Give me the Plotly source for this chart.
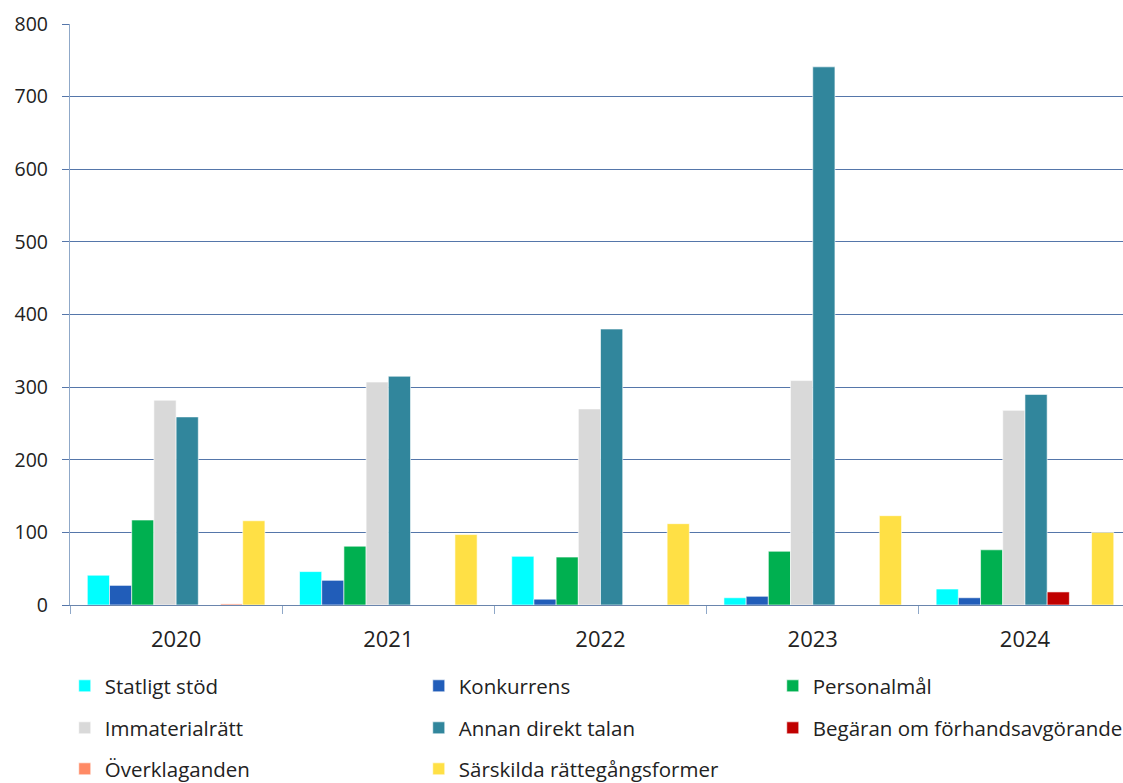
import plotly.graph_objects as go

years = ["2020", "2021", "2022", "2023", "2024"]
series_names = [
    "Statligt stöd", "Konkurrens", "Personalmål",
    "Immaterialrätt", "Annan direkt talan", "Begäran om förhandsavgörande",
    "Överklaganden", "Särskilda rättegångsformer",
]
statligt_stod = [41, 46, 67, 10, 22]
konkurrens = [27, 34, 8, 12, 10]
personalmal = [117, 81, 66, 74, 76]
immaterialratt = [282, 307, 270, 309, 268]
annan_direkt_talan = [259, 315, 380, 741, 290]
begaran = [0, 0, 0, 0, 18]
overklaganden = [1.5, 0, 0, 0, 0]
sarskilda = [116, 97, 112, 123, 100]
values = [statligt_stod, konkurrens, personalmal, immaterialratt,
          annan_direkt_talan, begaran, overklaganden, sarskilda]
colors = ["#00FFFF", "#215DB9", "#00B050", "#D9D9D9", "#31869C",
          "#C00000", "#FF8A65", "#FFE045"]

FONT = "Open Sans"
W, H = 1123, 783
# legend grid (pixels): entry left edges and row centres
col_px = [64.75, 418.75, 772.75]
row_px = [686, 728, 769]

fig = go.Figure()
legends = {}
for i, (name, vals, col) in enumerate(zip(series_names, values, colors)):
    lid = "legend" if i == 0 else f"legend{i + 1}"
    fig.add_trace(go.Bar(
        x=years, y=vals, name=name, legend=lid, showlegend=True,
        marker=dict(color=col, line=dict(color="white", width=0.6)),
    ))
    r, c = divmod(i, 3)
    legends[lid] = dict(
        xref="container", yref="container",
        x=col_px[c] / W, y=1 - row_px[r] / H,
        xanchor="left", yanchor="middle", orientation="h",
        font=dict(family=FONT, size=20.5, color="#222"),
        bgcolor="rgba(0,0,0,0)", itemclick=False, itemdoubleclick=False,
    )

fig.update_layout(
    width=W, height=H, showlegend=True,
    margin=dict(l=69.5, r=0, t=24, b=783 - 605, autoexpand=False),
    paper_bgcolor="white", plot_bgcolor="white",
    barmode="group", bargap=0.163, bargroupgap=0,
    font=dict(family=FONT, size=20.5, color="#222"),
    xaxis=dict(type="category", range=[-0.5, 4.462], automargin=False,
               showline=True, linecolor="#6A85AD", linewidth=1.2,
               ticks="outside", tickson="boundaries", ticklen=8,
               tickcolor="#8FA8C8", ticklabelstandoff=14,
               tickfont=dict(family=FONT, size=22, color="#222"),
               showgrid=False),
    yaxis=dict(range=[0, 800], dtick=100, showgrid=True, gridcolor="#5576AA",
               gridwidth=1, showline=True, linecolor="#8FA8C8", linewidth=1.2,
               ticks="outside", ticklen=7, tickcolor="#5576AA",
               ticklabelstandoff=10, automargin=False,
               tickfont=dict(family=FONT, size=19.5, color="#222"),
               zeroline=False),
    **legends,
)
fig.write_html(
    "out.html",
    config={"displayModeBar": False, "staticPlot": False},
    post_script="document.body.style.margin='0';document.body.style.overflow='hidden';",
)
